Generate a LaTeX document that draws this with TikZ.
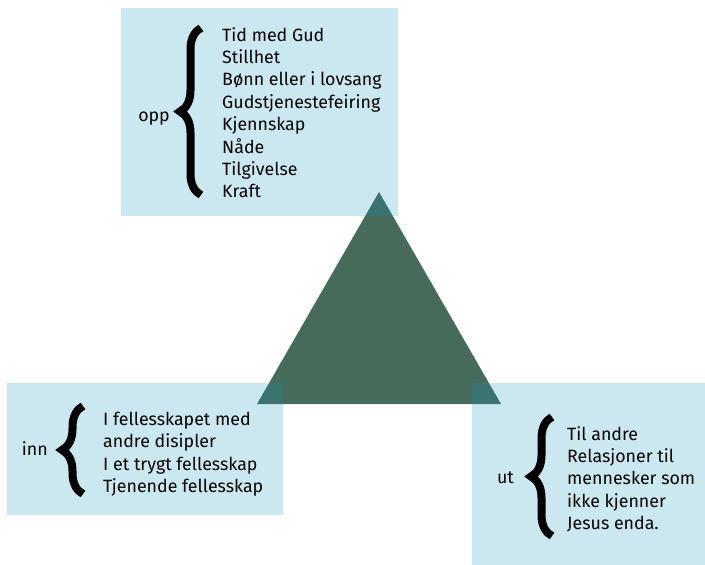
\documentclass[tikz,border=0pt]{standalone}
\usepackage{fontspec}
\setmainfont{Fira Sans}
\usetikzlibrary{decorations.pathreplacing}
\definecolor{boxblue}{RGB}{20,150,190}
\definecolor{trigreen}{RGB}{70,107,90}
\tikzset{
  panel/.style={fill=boxblue, fill opacity=0.22, draw=none, inner sep=0pt, anchor=north west},
  itemlist/.style={align=left, anchor=north west, inner sep=0pt, font=\fontsize{17.8}{22.4}\selectfont},
  dirlabel/.style={anchor=base east, inner sep=0pt, font=\fontsize{17.8}{22.4}\selectfont},
  curly/.style={decorate, decoration={brace, amplitude=21pt}, line width=8pt},
}
\begin{document}
\begin{tikzpicture}[x=1pt,y=-1pt]
	\useasboundingbox (0,0) rectangle (705,565);
	% triangle behind the panels
	\fill[trigreen] (257,404) -- (379,192) -- (501,404) -- cycle;
	% panels
	\node[panel, minimum width=277pt, minimum height=208pt] (opppanel) at (121,8) {};
	\node[panel, minimum width=276pt, minimum height=132pt] (innpanel) at (7,383) {};
	\node[panel, minimum width=233pt, minimum height=182pt] (utpanel) at (472,383) {};
	% opp
	\node[dirlabel] (opp) at (170,121) {opp};
	\coordinate (oppbot) at (201,195);
	\coordinate (opptop) at (201,28);
	\draw[curly] (oppbot) -- (opptop);
	\node[itemlist] (opplist) at (222,27) {Tid med Gud\\Stillhet\\Bønn eller i lovsang\\Gudstjenestefeiring\\Kjennskap\\Nåde\\Tilgivelse\\Kraft};
	% inn
	\node[dirlabel] (inn) at (48,455) {inn};
	\coordinate (innbot) at (83,494);
	\coordinate (inntop) at (83,406);
	\draw[curly] (innbot) -- (inntop);
	\node[itemlist] (innlist) at (103,412) {I fellesskapet med\\andre disipler\\I et trygt fellesskap\\Tjenende fellesskap};
	% ut
	\node[dirlabel] (ut) at (514,483) {ut};
	\coordinate (utbot) at (552,536);
	\coordinate (uttop) at (552,417);
	\draw[curly] (utbot) -- (uttop);
	\node[itemlist] (utlist) at (567,426) {Til andre\\Relasjoner til\\mennesker som\\ikke kjenner\\Jesus enda.};
\end{tikzpicture}
\end{document}
